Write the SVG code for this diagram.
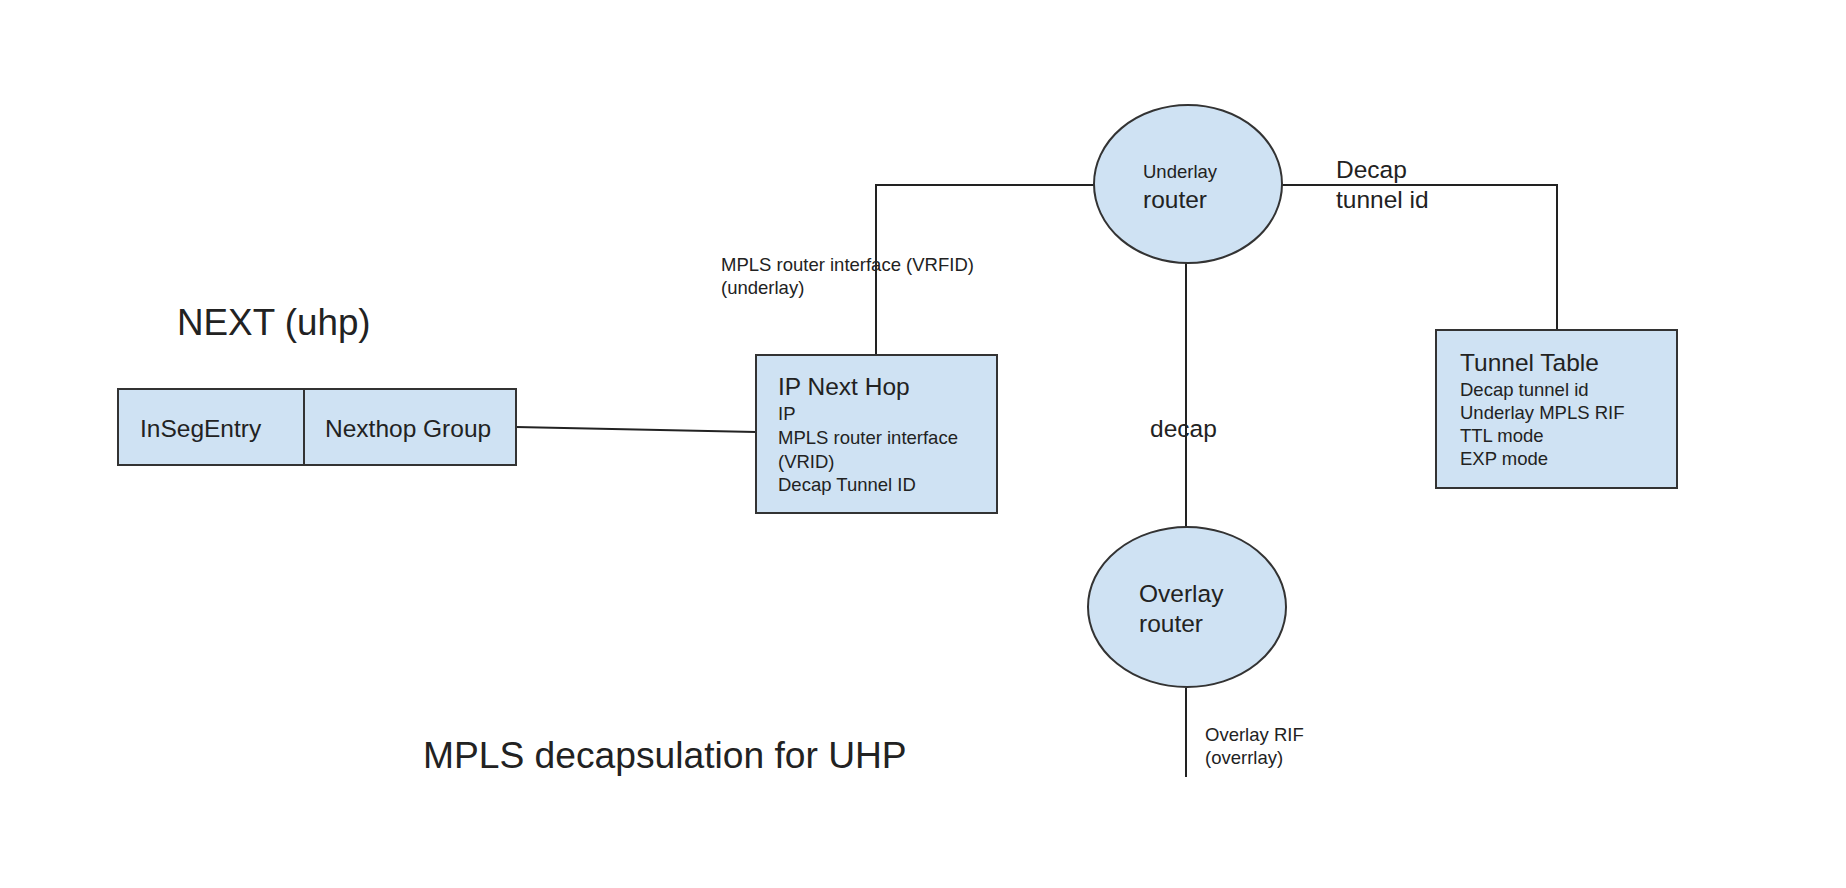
<svg xmlns="http://www.w3.org/2000/svg" width="1846" height="888" viewBox="0 0 1846 888">
<style>
.shape{fill:#cfe2f3;stroke:#333;stroke-width:2}
.conn{stroke:#222;stroke-width:2;fill:none}
text{font-family:"Liberation Sans",Arial,sans-serif;fill:#222}
.t{font-size:24.5px}
.s{font-size:18.5px}
.big{font-size:36.8px}
.big2{font-size:37.2px}
</style>
<rect width="1846" height="888" fill="#fff"/>
<g id="connectors">
<path class="conn" d="M516 427 L756 432"/>
<path class="conn" d="M876 355 V185 H1094"/>
<path class="conn" d="M1282 185 H1557 V330"/>
<path class="conn" d="M1186 263 V527"/>
<path class="conn" d="M1186 688 V777"/>
</g>
<g id="title-next">
<text class="big" x="177" y="335">NEXT (uhp)</text>
</g>
<g id="insegentry">
<rect class="shape" x="118" y="389" width="186" height="76"/>
<text class="t" x="140" y="437">InSegEntry</text>
</g>
<g id="nexthop-group">
<rect class="shape" x="304" y="389" width="212" height="76"/>
<text class="t" x="325" y="437">Nexthop Group</text>
</g>
<g id="ip-next-hop">
<rect class="shape" x="756" y="355" width="241" height="158"/>
<text class="t" x="778" y="395">IP Next Hop</text>
<text class="s" x="778" y="420">IP</text>
<text class="s" x="778" y="444">MPLS router interface</text>
<text class="s" x="778" y="468">(VRID)</text>
<text class="s" x="778" y="491">Decap Tunnel ID</text>
</g>
<g id="label-mpls-rif">
<text class="s" x="721" y="271">MPLS router interface (VRFID)</text>
<text class="s" x="721" y="294">(underlay)</text>
</g>
<g id="underlay-router">
<ellipse class="shape" cx="1188" cy="184" rx="94" ry="79"/>
<text class="s" x="1143" y="178">Underlay</text>
<text class="t" x="1143" y="208">router</text>
</g>
<g id="label-decap-tunnel-id">
<text class="t" x="1336" y="178">Decap</text>
<text class="t" x="1336" y="208">tunnel id</text>
</g>
<g id="tunnel-table">
<rect class="shape" x="1436" y="330" width="241" height="158"/>
<text class="t" x="1460" y="371">Tunnel Table</text>
<text class="s" x="1460" y="396">Decap tunnel id</text>
<text class="s" x="1460" y="419">Underlay MPLS RIF</text>
<text class="s" x="1460" y="442">TTL mode</text>
<text class="s" x="1460" y="465">EXP mode</text>
</g>
<g id="label-decap">
<text class="t" x="1150" y="437">decap</text>
</g>
<g id="overlay-router">
<ellipse class="shape" cx="1187" cy="607" rx="99" ry="80"/>
<text class="t" x="1139" y="602">Overlay</text>
<text class="t" x="1139" y="632">router</text>
</g>
<g id="label-overlay-rif">
<text class="s" x="1205" y="741">Overlay RIF</text>
<text class="s" x="1205" y="764">(overrlay)</text>
</g>
<g id="title-mpls">
<text class="big2" x="423" y="768">MPLS decapsulation for UHP</text>
</g>
</svg>
